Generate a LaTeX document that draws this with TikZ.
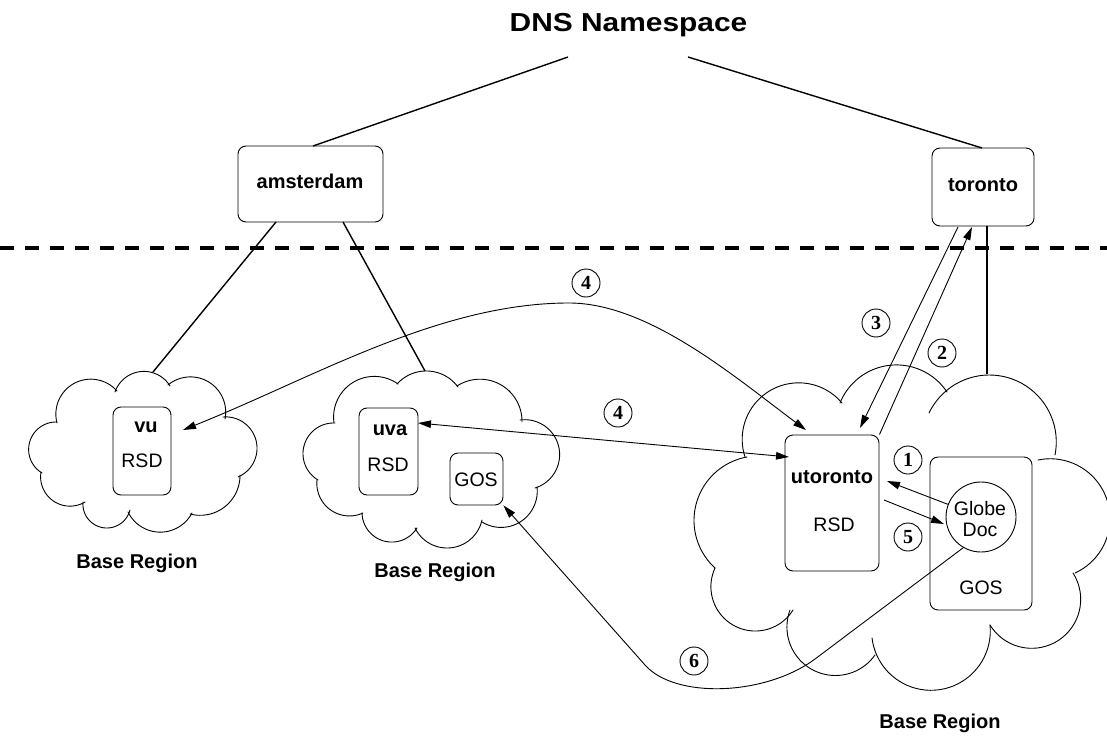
\documentclass[tikz,border=0pt]{standalone}
\usepackage{fontspec}
\setmainfont{Liberation Sans}
\newfontfamily\numfont{Liberation Serif}
\usepackage{xfp}
\usetikzlibrary{arrows.meta}

% arc through three points A(#1,#2) P(#3,#4) B(#5,#6), pixel frame (y down)
\newcommand\lobe[6]{%
  \edef\clD{\fpeval{2*((#1)*((#4)-(#6))+(#3)*((#6)-(#2))+(#5)*((#2)-(#4)))}}%
  \edef\clX{\fpeval{round((((#1)^2+(#2)^2)*((#4)-(#6))+((#3)^2+(#4)^2)*((#6)-(#2))+((#5)^2+(#6)^2)*((#2)-(#4)))/(\clD),3)}}%
  \edef\clY{\fpeval{round((((#1)^2+(#2)^2)*((#5)-(#3))+((#3)^2+(#4)^2)*((#1)-(#5))+((#5)^2+(#6)^2)*((#3)-(#1)))/(\clD),3)}}%
  \edef\clR{\fpeval{round(sqrt(((#1)-(\clX))^2+((#2)-(\clY))^2),3)}}%
  \edef\clA{\fpeval{round(atand((#2)-(\clY),(#1)-(\clX)),3)}}%
  \edef\clP{\fpeval{round(atand((#4)-(\clY),(#3)-(\clX)),3)}}%
  \edef\clB{\fpeval{round(atand((#6)-(\clY),(#5)-(\clX)),3)}}%
  \edef\clDa{\fpeval{((\clP)-(\clA))-360*floor(((\clP)-(\clA))/360)}}%
  \edef\clDb{\fpeval{((\clB)-(\clA))-360*floor(((\clB)-(\clA))/360)}}%
  \edef\clE{\fpeval{(\clDa)<(\clDb) ? (\clA)+(\clDb) : (\clA)-(360-(\clDb))}}%
  \edef\clLo{\fpeval{round(min(\clA,\clE),3)}}%
  \edef\clHi{\fpeval{round(max(\clA,\clE),3)}}%
  \draw[cloudline] plot[variable=\t,domain=\clLo:\clHi,samples=40] ({\clX+\clR*cos(\t)},{\clY+\clR*sin(\t)});%
}

\tikzset{
  cloudline/.style={line width=0.9pt, line join=round, line cap=round},
  rbox/.style={draw, rounded corners=8pt, line width=0.9pt, inner sep=0pt},
  namelab/.style={font=\fontsize{20}{22}\selectfont\bfseries, inner sep=0pt, anchor=base},
  plainlab/.style={font=\fontsize{19.5}{21}\selectfont, inner sep=0pt, anchor=base},
  numc/.style={draw, circle, minimum size=28pt, inner sep=0pt, line width=0.9pt,
    font=\numfont\bfseries\fontsize{20}{20}\selectfont},
  treeline/.style={line width=1.4pt},
  arr/.style={line width=0.9pt, -{Triangle[length=13pt,width=7.5pt]}},
  dblarr/.style={line width=0.9pt, {Triangle[length=13pt,width=7.5pt]}-{Triangle[length=13pt,width=7.5pt]}},
  divider/.style={line width=3.5pt, dash pattern=on 14pt off 11pt}
}

\begin{document}
\begin{tikzpicture}[x=1pt,y=-1pt]
\useasboundingbox (0,0) rectangle (1107,738);

% ---------- title and upper tree ----------
\node[inner sep=0pt, anchor=base, font=\fontsize{26}{30}\selectfont\bfseries] (dns) at (628.5,32) {\scalebox{1.15}[1]{DNS Namespace}};
\node[rbox, minimum width=145pt, minimum height=76pt] (ams) at (310.5,184) {};
\node[namelab] (amsT) at (310,189) {amsterdam};
\node[rbox, minimum width=102pt, minimum height=78pt] (tor) at (983,187) {};
\node[namelab] (torT) at (983,191) {toronto};

\coordinate (dnsL) at (568,57);
\coordinate (dnsR) at (688,57);
\coordinate (amsN) at (313,146);
\coordinate (torN) at (982,148);
\draw[treeline] (dnsL) -- (amsN);
\draw[treeline] (dnsR) -- (torN);

% dashed divider
\coordinate (divL) at (0,248);
\coordinate (divR) at (1107,248);
\draw[divider] (divL) -- (divR);

% ---------- clouds ----------
% vu cloud
\lobe{57}{423}{77}{382}{117}{391}
\lobe{115}{392}{150}{372}{170}{386}
\lobe{168}{385}{207}{381}{225}{419}
\lobe{223}{417}{257}{447}{238}{477}
\lobe{240}{475}{220}{510}{190}{514}
\lobe{192}{513}{157}{532}{128}{512}
\lobe{130}{510}{107}{528}{83}{502}
\lobe{85}{502}{52}{500}{41}{472}
\lobe{42}{473}{29}{445}{57}{422}
% uva cloud
\lobe{334}{423}{363}{378}{398}{384}
\lobe{397}{384}{425}{371}{458}{387}
\lobe{457}{386}{495}{382}{522}{422}
\lobe{520}{420}{559}{448}{535}{488}
\lobe{537}{487}{523}{520}{482}{522}
\lobe{482}{520}{447}{548}{415}{528}
\lobe{417}{528}{390}{542}{362}{513}
\lobe{363}{513}{327}{507}{317}{480}
\lobe{318}{480}{303}{453}{335}{423}
% toronto cloud
\lobe{745}{457}{780}{386}{842}{403}
\lobe{840}{403}{893}{365}{947}{392}
\lobe{929}{413}{990}{375}{1055}{455}
\lobe{1038}{460}{1106}{497}{1075}{573}
\lobe{1073}{573}{1063}{637}{990}{625}
\lobe{990}{625}{937}{690}{872}{638}
\lobe{875}{655}{820}{673}{790}{610}
\lobe{793}{610}{757}{631}{715}{568}
\lobe{715}{568}{694}{521}{747}{457}

% ---------- boxes inside clouds ----------
\node[rbox, minimum width=58pt, minimum height=88pt] (vub) at (142,451) {};
\node[namelab] (vuT) at (146,432) {vu};
\node[plainlab] (vuR) at (142,467) {RSD};

\node[rbox, minimum width=59pt, minimum height=87pt] (uvab) at (388.5,451.5) {};
\node[namelab] (uvaT) at (390,435) {uva};
\node[plainlab] (uvaR) at (388,471) {RSD};
\node[rbox, minimum width=53pt, minimum height=52pt] (gosu) at (476.5,479) {};
\node[plainlab] (gosuT) at (476,486) {GOS};

\node[rbox, minimum width=94pt, minimum height=136pt] (utor) at (832,503) {};
\node[namelab] (utorT) at (832,483) {utoronto};
\node[plainlab] (utorR) at (834,531) {RSD};
\node[rbox, minimum width=102pt, minimum height=153pt] (gost) at (981,533.5) {};
\node[plainlab] (gostT) at (981,594) {GOS};
\node[draw, circle, minimum size=70pt, inner sep=0pt, line width=0.9pt] (globe) at (981,517) {};
\node[plainlab] (globeA) at (980,515) {Globe};
\node[plainlab] (globeB) at (980,536) {Doc};

% base region labels
\node[namelab] (br1) at (137,568) {Base Region};
\node[namelab] (br2) at (435,577) {Base Region};
\node[namelab] (br3) at (940,728) {Base Region};

% ---------- lower tree lines ----------
\coordinate (amsBL) at (276,222);
\coordinate (amsBR) at (343,222);
\coordinate (vuTop) at (153,372);
\coordinate (uvaTop) at (425,371);
\coordinate (torB) at (987,226);
\coordinate (bigTop) at (987,374);
\draw[treeline] (amsBL) -- (vuTop);
\draw[treeline] (amsBR) -- (uvaTop);
\draw[treeline] (torB) -- (bigTop);

% ---------- numbered steps ----------
\node[numc] (n4a) at (586,283) {4};
\node[numc] (n3) at (876,323) {3};
\node[numc] (n2) at (942,353) {2};
\node[numc] (n4b) at (618,413) {4};
\node[numc] (n1) at (908,460) {1};
\node[numc] (n5) at (908,537) {5};
\node[numc] (n6) at (694,661) {6};

% ---------- arrows ----------
\coordinate (a1e) at (887,481);
\draw[arr] (globe) -- (a1e);
\coordinate (a5s) at (884,500);
\coordinate (a5e) at (944,524);
\draw[arr] (a5s) -- (a5e);

\coordinate (t3s) at (958,227);
\coordinate (t3e) at (860,428);
\draw[arr] (t3s) -- (t3e);
\coordinate (t2e) at (972,227);
\draw[arr] (utor.north east) -- (t2e);

\coordinate (uvaTip) at (418,423);
\coordinate (utL) at (789,457);
\draw[dblarr] (uvaTip) -- (utL);

\coordinate (vuTip) at (183,430);
\coordinate (a4apex) at (569,303);
\coordinate (utT) at (806,430);
\draw[dblarr] (vuTip) .. controls (313,378) and (439,303) .. (a4apex)
  .. controls (649,303) and (736,378) .. (utT);

\coordinate (c6a) at (815,659);
\coordinate (c6d) at (645,665);
\draw[arr] (globe.240) -- (c6a) .. controls (765,696) and (675,699) .. (c6d) -- (gosu.south east);

\end{tikzpicture}
\end{document}
